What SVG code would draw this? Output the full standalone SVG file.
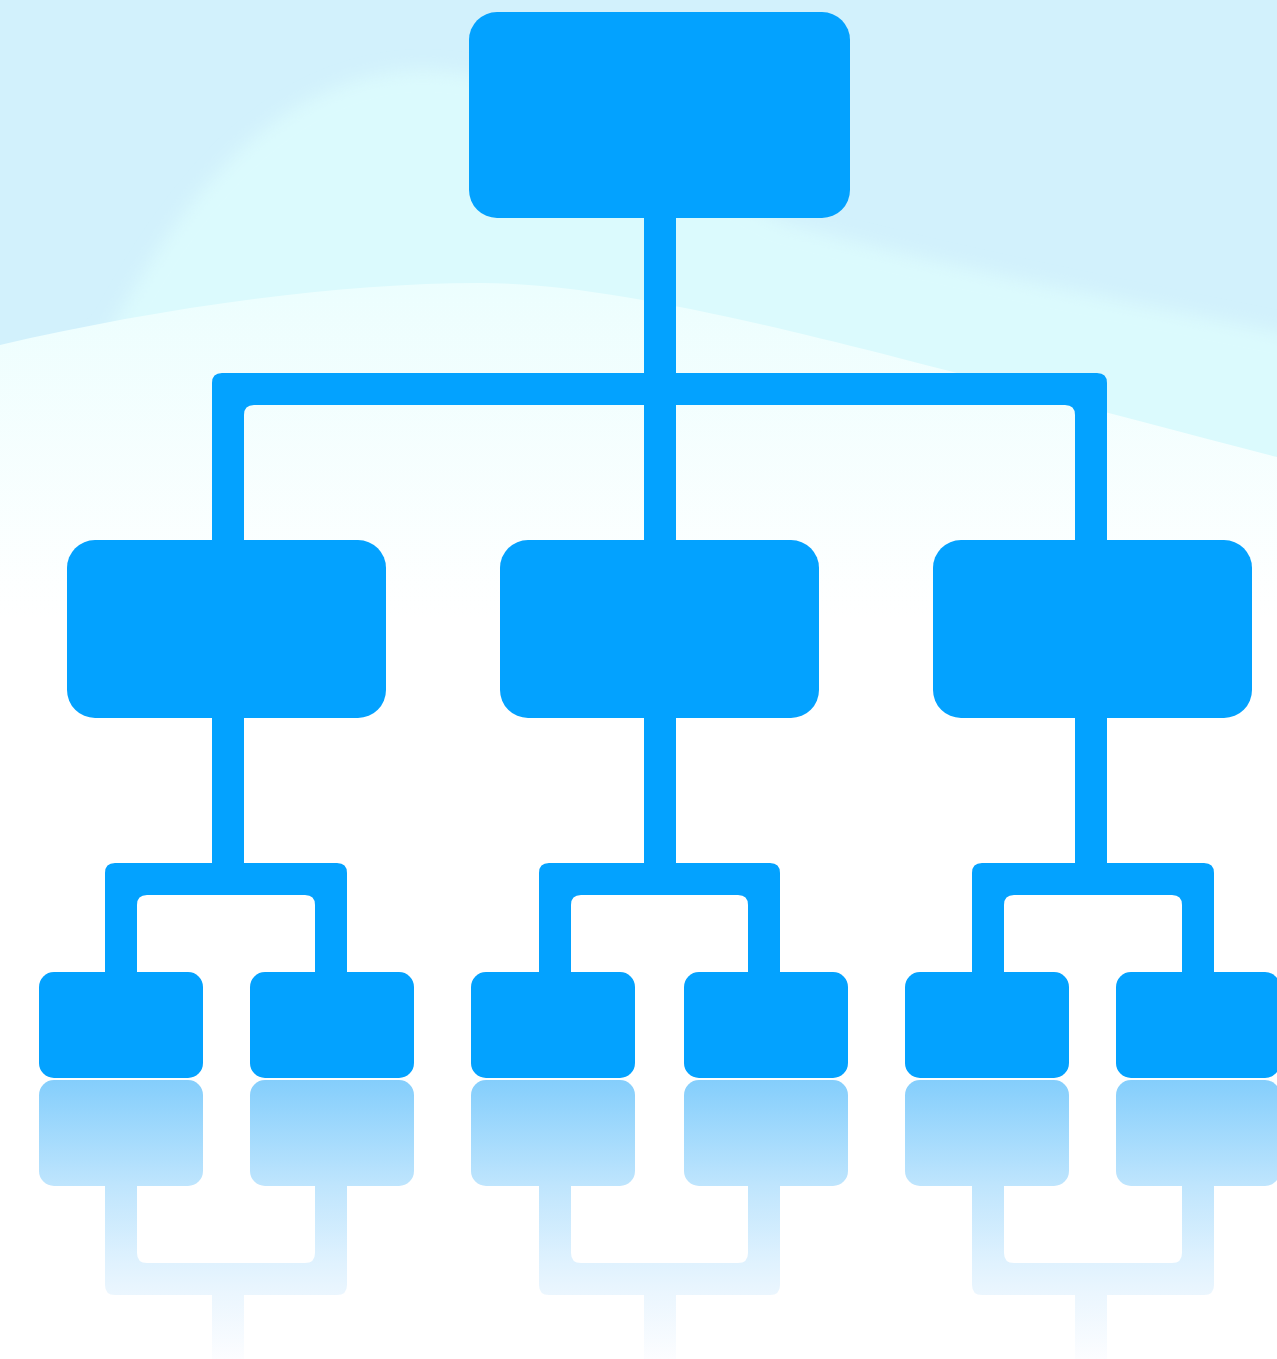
<svg xmlns="http://www.w3.org/2000/svg" width="1277" height="1359" viewBox="0 0 1277 1359">
  <defs>
    <style>
      .node { fill: #03a2ff; }
      .conn { fill: #03a2ff; }
      .refl { fill: url(#reflGrad); }
    </style>
    <filter id="soft" x="-0.1" y="-0.2" width="1.2" height="1.4">
      <feGaussianBlur stdDeviation="9"/>
    </filter>
    <linearGradient id="whiteGrad" gradientUnits="userSpaceOnUse" x1="0" y1="283" x2="0" y2="620">
      <stop offset="0" stop-color="#ecfefe"/>
      <stop offset="1" stop-color="#ffffff"/>
    </linearGradient>
    <linearGradient id="reflGrad" gradientUnits="userSpaceOnUse" x1="0" y1="1080" x2="0" y2="1359">
      <stop offset="0" stop-color="#84cefc"/>
      <stop offset="0.38" stop-color="#bfe5fd"/>
      <stop offset="0.66" stop-color="#e0f2fe"/>
      <stop offset="0.77" stop-color="#ebf6fe"/>
      <stop offset="1" stop-color="#fcfdff"/>
    </linearGradient>
  </defs>

  <!-- background -->
  <g id="background">
    <rect x="0" y="0" width="1277" height="1359" fill="#ffffff"/>
    <rect x="0" y="0" width="1277" height="700" fill="#d2f1fc"/>
    <path d="M0,760 L0,420 L110,330 C160,240 250,85 405,71 C530,62 640,150 782,222 C950,270 1150,305 1340,345 L1340,760 Z" fill="#dbfafd" filter="url(#soft)"/>
    <path d="M0,345 C150,310 330,283 480,283 C650,283 900,360 1277,457 L1277,1359 L0,1359 Z" fill="url(#whiteGrad)"/>
  </g>

  <!-- connectors -->
  <g id="connectors">
    <rect class="conn" x="644" y="216" width="32" height="326"/>
    <path class="conn" d="M212,542 V383 Q212,373 222,373 H1097 Q1107,373 1107,383 V542 H1075 V415 Q1075,405 1065,405 H254 Q244,405 244,415 V542 Z"/>
    <rect class="conn" x="212" y="716" width="32" height="149"/>
    <rect class="conn" x="644" y="716" width="32" height="149"/>
    <rect class="conn" x="1075" y="716" width="32" height="149"/>
    <path class="conn" d="M105,974 V873 Q105,863 115,863 H337 Q347,863 347,873 V974 H315 V905 Q315,895 305,895 H147 Q137,895 137,905 V974 Z"/>
    <path class="conn" d="M539,974 V873 Q539,863 549,863 H770 Q780,863 780,873 V974 H748 V905 Q748,895 738,895 H581 Q571,895 571,905 V974 Z"/>
    <path class="conn" d="M972,974 V873 Q972,863 982,863 H1204 Q1214,863 1214,873 V974 H1182 V905 Q1182,895 1172,895 H1014 Q1004,895 1004,905 V974 Z"/>
  </g>

  <!-- nodes -->
  <g id="node-root"><rect class="node" x="469" y="12" width="381" height="206" rx="28"/></g>
  <g id="node-mid-left"><rect class="node" x="67" y="540" width="319" height="178" rx="28"/></g>
  <g id="node-mid-center"><rect class="node" x="500" y="540" width="319" height="178" rx="28"/></g>
  <g id="node-mid-right"><rect class="node" x="933" y="540" width="319" height="178" rx="28"/></g>
  <g id="node-leaf-1"><rect class="node" x="39" y="972" width="164" height="106" rx="15"/></g>
  <g id="node-leaf-2"><rect class="node" x="250" y="972" width="164" height="106" rx="15"/></g>
  <g id="node-leaf-3"><rect class="node" x="471" y="972" width="164" height="106" rx="15"/></g>
  <g id="node-leaf-4"><rect class="node" x="684" y="972" width="164" height="106" rx="15"/></g>
  <g id="node-leaf-5"><rect class="node" x="905" y="972" width="164" height="106" rx="15"/></g>
  <g id="node-leaf-6"><rect class="node" x="1116" y="972" width="164" height="106" rx="15"/></g>

  <!-- reflection -->
  <g id="reflection">
    <rect class="refl" x="39" y="1080" width="164" height="106" rx="15"/>
    <rect class="refl" x="250" y="1080" width="164" height="106" rx="15"/>
    <rect class="refl" x="471" y="1080" width="164" height="106" rx="15"/>
    <rect class="refl" x="684" y="1080" width="164" height="106" rx="15"/>
    <rect class="refl" x="905" y="1080" width="164" height="106" rx="15"/>
    <rect class="refl" x="1116" y="1080" width="164" height="106" rx="15"/>
    <path class="refl" d="M105,1186 V1285 Q105,1295 115,1295 H337 Q347,1295 347,1285 V1186 H315 V1253 Q315,1263 305,1263 H147 Q137,1263 137,1253 V1186 Z"/>
    <path class="refl" d="M539,1186 V1285 Q539,1295 549,1295 H770 Q780,1295 780,1285 V1186 H748 V1253 Q748,1263 738,1263 H581 Q571,1263 571,1253 V1186 Z"/>
    <path class="refl" d="M972,1186 V1285 Q972,1295 982,1295 H1204 Q1214,1295 1214,1285 V1186 H1182 V1253 Q1182,1263 1172,1263 H1014 Q1004,1263 1004,1253 V1186 Z"/>
    <rect class="refl" x="212" y="1295" width="32" height="64"/>
    <rect class="refl" x="644" y="1295" width="32" height="64"/>
    <rect class="refl" x="1075" y="1295" width="32" height="64"/>
  </g>
</svg>
